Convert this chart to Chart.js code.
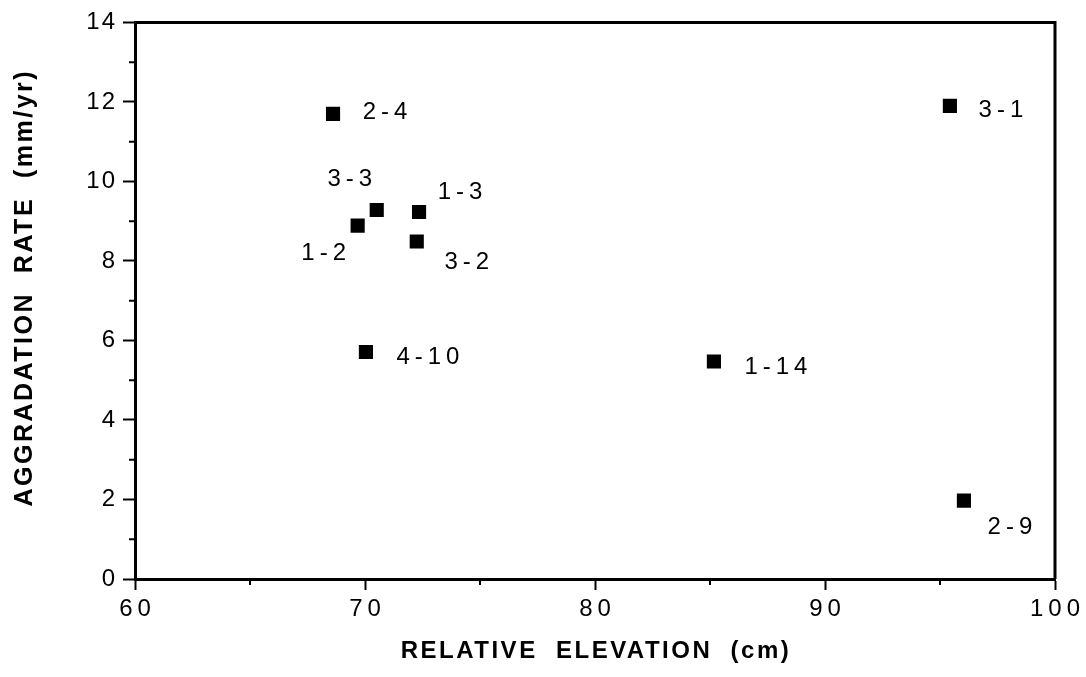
<!DOCTYPE html>
<html><head><meta charset="utf-8">
<script src="https://cdn.jsdelivr.net/npm/chart.js@4"></script>
<style>html,body{margin:0;padding:0;background:#fff}#wrap{width:1086px;height:677px;position:relative}</style>
</head><body><div id="wrap"><canvas id="c"></canvas></div>
<script>
const siteLabels = ['2-4','3-3','1-2','1-3','3-2','3-1','4-10','1-14','2-9'];
const elevation = [68.61,70.51,69.68,72.35,72.25,95.43,70.04,85.17,96.04];
const aggradation = [11.70,9.28,8.89,9.23,8.49,11.90,5.71,5.47,1.97];
const xTicks = [60,70,80,90,100];
const yTicks = [0,2,4,6,8,10,12,14];
const xMinorTicks = [65,75,85,95];
const yMinorTicks = [1,3,5,7,9,11,13];
const xTitle = 'RELATIVE  ELEVATION  (cm)';
const yTitle = 'AGGRADATION  RATE  (mm/yr)';

const labelOffsets = [[52,-2],[-27,-32],[-34,27],[41,-21],[50,20],[51,3],[62,4],[62,5],[46,26]];
const FONT = '"Liberation Sans", Arial, Helvetica, sans-serif';

function patchScale(scale, spacing, dx, titleSpacing, tdx, tdy) {
  if (scale._patched) return;
  scale._patched = true;
  const dl = scale.drawLabels;
  scale.drawLabels = function(area) {
    const ctx = this.ctx; ctx.save();
    ctx.letterSpacing = spacing + 'px';
    ctx.translate(dx, 0);
    dl.call(this, area);
    ctx.restore();
  };
  const dt = scale.drawTitle;
  scale.drawTitle = function() {
    const ctx = this.ctx; ctx.save();
    ctx.letterSpacing = titleSpacing + 'px';
    ctx.translate(tdx, tdy);
    dt.call(this);
    ctx.restore();
  };
}

const decor = {
  id: 'decor',
  beforeDraw(chart) {
    patchScale(chart.scales.x, 5, 2.5, 2.5, 1, 0);
    patchScale(chart.scales.y, 2, 2, 2.5, 0, -13);
  },
  afterDraw(chart) {
    const {ctx, chartArea: a, scales: {x, y}} = chart;
    ctx.save();
    ctx.strokeStyle = '#000';
    ctx.lineWidth = 3;
    ctx.beginPath();
    ctx.moveTo(a.left, a.top); ctx.lineTo(a.right, a.top); ctx.lineTo(a.right, a.bottom);
    ctx.stroke();
    ctx.lineWidth = 2;
    ctx.beginPath();
    yMinorTicks.forEach(v => { const py = y.getPixelForValue(v); ctx.moveTo(a.left - 6, py); ctx.lineTo(a.left, py); });
    xMinorTicks.forEach(v => { const px = x.getPixelForValue(v); ctx.moveTo(px, a.bottom); ctx.lineTo(px, a.bottom + 6); });
    ctx.stroke();
    // point labels
    const meta = chart.getDatasetMeta(0);
    ctx.fillStyle = '#000';
    ctx.font = '24px ' + FONT;
    ctx.letterSpacing = '5px';
    ctx.textAlign = 'center';
    ctx.textBaseline = 'middle';
    meta.data.forEach((el, i) => {
      const [ox, oy] = labelOffsets[i];
      ctx.fillText(siteLabels[i], el.x + ox + 2.5, el.y + oy + 1);
    });
    ctx.restore();
  }
};

new Chart(document.getElementById('c'), {
  type: 'scatter',
  data: {
    datasets: [{
      data: elevation.map((v, i) => ({x: v, y: aggradation[i]})),
      pointStyle: 'rect',
      pointRadius: 10,
      pointHoverRadius: 10,
      backgroundColor: '#000',
      borderColor: '#000',
      borderWidth: 0
    }]
  },
  options: {
    responsive: true,
    maintainAspectRatio: false,
    animation: false,
    events: [],
    layout: {padding: {top: 18, right: 31, left: 0, bottom: 0}},
    plugins: {legend: {display: false}, tooltip: {enabled: false}},
    scales: {
      x: {
        type: 'linear', min: 60, max: 100,
        afterBuildTicks: s => { s.ticks = xTicks.map(v => ({value: v})); },
        afterFit: s => { s.height = 98; },
        grid: {drawOnChartArea: false, tickLength: 11, tickWidth: 2, tickColor: '#000'},
        border: {display: true, color: '#000', width: 3},
        ticks: {color: '#000', font: {family: FONT, size: 24}, padding: 5, maxRotation: 0},
        title: {display: true, text: xTitle, color: '#000', font: {family: FONT, size: 24, weight: 'bold'}, padding: {top: 0, bottom: 11}}
      },
      y: {
        type: 'linear', min: 0, max: 14,
        afterBuildTicks: s => { s.ticks = yTicks.map(v => ({value: v})); },
        afterFit: s => { s.width = 135; },
        grid: {drawOnChartArea: false, tickLength: 12, tickWidth: 2, tickColor: '#000'},
        border: {display: true, color: '#000', width: 3},
        ticks: {color: '#000', font: {family: FONT, size: 24}, padding: 8},
        title: {display: true, text: yTitle, color: '#000', font: {family: FONT, size: 25, weight: 'bold'}, padding: {top: 10, bottom: 0}}
      }
    }
  },
  plugins: [decor]
});
</script>
</body></html>
